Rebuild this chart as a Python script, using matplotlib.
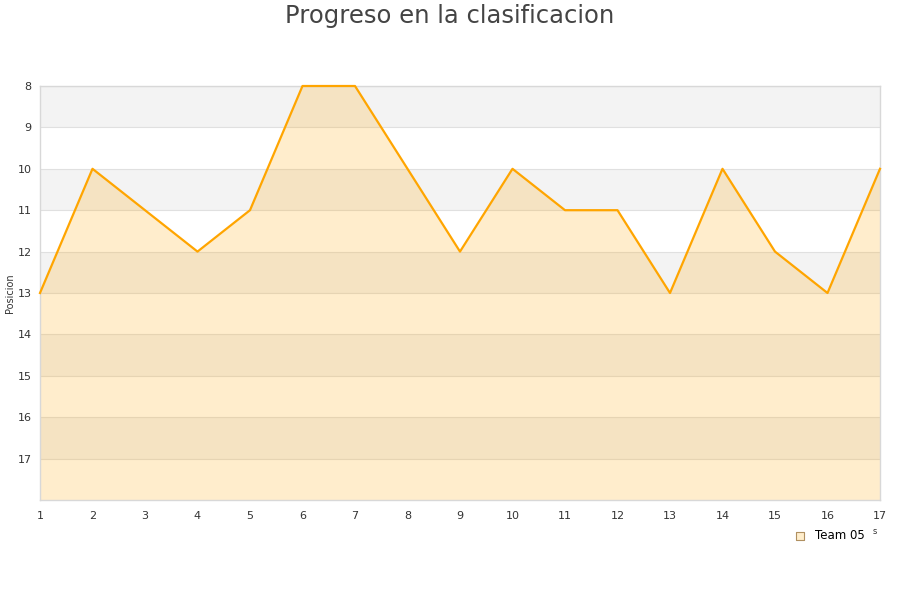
import numpy as np
import matplotlib.pyplot as plt

jornadas = list(range(1, 18))
posicion = [13, 10, 11, 12, 11, 8, 8, 10, 12, 10, 11, 11, 13, 10, 12, 13, 10]
y_ticks = list(range(8, 18))
team = "Team 05"

fig = plt.figure(figsize=(9, 6), dpi=100)
ax = fig.add_axes([40 / 900, 100 / 600, 840 / 900, 414 / 600])

# alternating grey bands
for lo in range(8, 18, 2):
    ax.axhspan(lo, lo + 1, color="#f3f3f3", lw=0, zorder=0)
for t in y_ticks:
    ax.axhline(t, color="#e0e0e0", lw=0.8, zorder=0.5)

ax.fill_between(jornadas, posicion, 18, color="#ffa500", alpha=0.2, lw=0, zorder=1)
ax.plot(jornadas, posicion, color="#ffa500", lw=1.6, zorder=3, clip_on=False)

ax.set_xlim(1, 17)
ax.set_ylim(18, 8)
ax.set_xticks(jornadas)
ax.set_yticks(y_ticks)
ax.tick_params(length=0, labelsize=8, labelcolor="#333333", pad=8)
ax.tick_params(axis="y", pad=6)
for s in ax.spines.values():
    s.set_color("#d8d8d8")
    s.set_linewidth(1)

fig.text(9.5 / 900, 0.5 + 7 / 600, "Posicion", rotation=90, ha="center", va="center",
         fontsize=7, color="#333333")
fig.text(0.5, 1 - 16 / 600, "Progreso en la clasificacion", ha="center", va="center",
         fontsize=17.5, color="#444444")
fig.text(875 / 900, 1 - 532 / 600, "s", ha="center", va="center", fontsize=6, color="#333333")

ax.scatter([], [], marker="s", s=30, color="#ffeecc", edgecolor="#b09060", lw=0.8, label=team)
leg = ax.legend(loc="upper left", bbox_to_anchor=(788 / 900, 1 - 529 / 600),
                bbox_transform=fig.transFigure, frameon=False, fontsize=8.5,
                handletextpad=0.3, borderpad=0, borderaxespad=0)

fig.savefig("out.png", dpi=100)
